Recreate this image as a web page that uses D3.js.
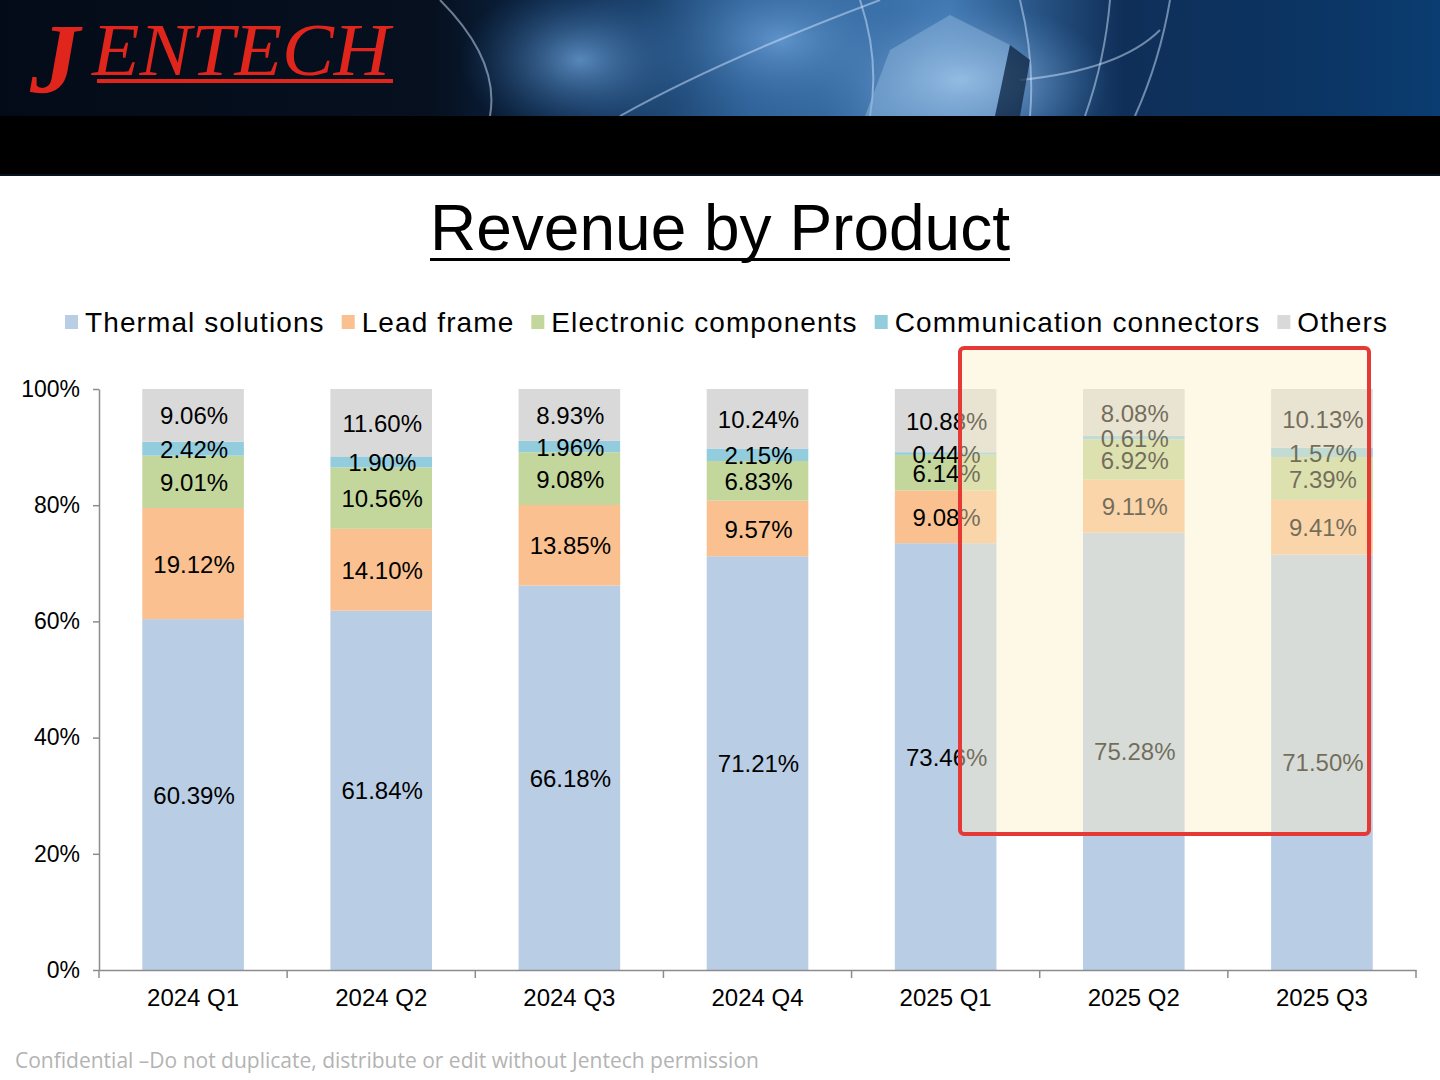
<!DOCTYPE html>
<html>
<head>
<meta charset="utf-8">
<script src="https://cdn.jsdelivr.net/npm/d3@7"></script>
<style>
  html, body { margin: 0; padding: 0; background: #fff; }
  svg { display: block; }
</style>
</head>
<body>
<svg id="chart" width="1440" height="1080"></svg>
<script>
// ---------------- DATA ----------------
const categories = ["2024 Q1", "2024 Q2", "2024 Q3", "2024 Q4", "2025 Q1", "2025 Q2", "2025 Q3"];
const seriesNames = ["Thermal solutions", "Lead frame", "Electronic components", "Communication connectors", "Others"];
const thermalSolutions = [60.39, 61.84, 66.18, 71.21, 73.46, 75.28, 71.50];
const leadFrame = [19.12, 14.10, 13.85, 9.57, 9.08, 9.11, 9.41];
const electronicComponents = [9.01, 10.56, 9.08, 6.83, 6.14, 6.92, 7.39];
const communicationConnectors = [2.42, 1.90, 1.96, 2.15, 0.44, 0.61, 1.57];
const others = [9.06, 11.60, 8.93, 10.24, 10.88, 8.08, 10.13];
const yTickValues = [0, 20, 40, 60, 80, 100];
const seriesColors = ["#B9CDE5", "#FAC090", "#C3D69B", "#93CDDD", "#D9D9D9"];

const seriesValues = [thermalSolutions, leadFrame, electronicComponents, communicationConnectors, others];
const table = categories.map((c, i) => {
  const row = { category: c };
  seriesNames.forEach((s, j) => row[s] = seriesValues[j][i]);
  return row;
});

// ---------------- SETUP ----------------
const svg = d3.select("#chart");
const font = "'Liberation Sans', Arial, Helvetica, sans-serif";

// ---------------- HEADER ----------------
const defs = svg.append("defs");
const hg = defs.append("linearGradient").attr("id", "hdrGrad").attr("x1", 0).attr("x2", 1).attr("y1", 0).attr("y2", 0);
hg.append("stop").attr("offset", "0").attr("stop-color", "#040b18");
hg.append("stop").attr("offset", "0.30").attr("stop-color", "#06101f");
hg.append("stop").attr("offset", "0.40").attr("stop-color", "#0d2a4d");
hg.append("stop").attr("offset", "0.52").attr("stop-color", "#2f6298");
hg.append("stop").attr("offset", "0.66").attr("stop-color", "#4179b2");
hg.append("stop").attr("offset", "0.78").attr("stop-color", "#0f2f58");
hg.append("stop").attr("offset", "0.92").attr("stop-color", "#0b3564");
hg.append("stop").attr("offset", "1").attr("stop-color", "#0b3d72");

const rg = defs.append("radialGradient").attr("id", "glow1").attr("cx", 0.5).attr("cy", 0.5).attr("r", 0.5);
rg.append("stop").attr("offset", "0").attr("stop-color", "#a6cbef").attr("stop-opacity", 0.9);
rg.append("stop").attr("offset", "1").attr("stop-color", "#4a80bb").attr("stop-opacity", 0);

const rg2 = defs.append("radialGradient").attr("id", "glow2").attr("cx", 0.5).attr("cy", 0.5).attr("r", 0.5);
rg2.append("stop").attr("offset", "0").attr("stop-color", "#6a9fd6").attr("stop-opacity", 0.8);
rg2.append("stop").attr("offset", "1").attr("stop-color", "#2a5d95").attr("stop-opacity", 0);

const header = svg.append("g");
header.append("rect").attr("x", 0).attr("y", 0).attr("width", 1440).attr("height", 118).attr("fill", "url(#hdrGrad)");
header.append("clipPath").attr("id", "hdrClip").append("rect").attr("x", 0).attr("y", 0).attr("width", 1440).attr("height", 116);
const deco = header.append("g").attr("clip-path", "url(#hdrClip)");
deco.append("ellipse").attr("cx", 580).attr("cy", 60).attr("rx", 120).attr("ry", 80).attr("fill", "url(#glow2)");
deco.append("ellipse").attr("cx", 960).attr("cy", 80).attr("rx", 150).attr("ry", 80).attr("fill", "url(#glow1)");
deco.append("ellipse").attr("cx", 780).attr("cy", 40).attr("rx", 150).attr("ry", 90).attr("fill", "url(#glow2)");
const arcs = [
  "M 440 0 Q 500 60 490 116",
  "M 860 0 Q 880 60 870 116",
  "M 620 116 Q 720 60 880 0",
  "M 1020 0 Q 1035 60 1030 116",
  "M 1110 0 Q 1105 60 1085 116",
  "M 1170 0 Q 1160 60 1135 116",
  "M 1020 80 Q 1120 70 1160 30"
];
deco.selectAll("path.arc").data(arcs).join("path")
  .attr("d", d => d).attr("fill", "none").attr("stroke", "#cfe4ff").attr("stroke-opacity", 0.5).attr("stroke-width", 2);
deco.append("path").attr("d", "M 865 116 L 890 50 L 950 15 L 1010 45 L 995 116 Z")
  .attr("fill", "#8cb3dc").attr("opacity", 0.5);
deco.append("path").attr("d", "M 995 116 L 1010 45 L 1030 60 L 1020 116 Z")
  .attr("fill", "#0a1f3a").attr("opacity", 0.7);
header.append("rect").attr("x", 0).attr("y", 116).attr("width", 1440).attr("height", 60).attr("fill", "#000");
header.append("rect").attr("x", 0).attr("y", 174).attr("width", 1440).attr("height", 2).attr("fill", "#06121e");

// Logo
const logo = header.append("g");
logo.append("text").attr("x", 30).attr("y", 92)
  .attr("font-family", "'Liberation Serif', 'DejaVu Serif', serif").attr("font-style", "italic").attr("font-weight", "bold")
  .attr("font-size", 100).attr("fill", "#E0261C").text("J");
logo.append("text").attr("x", 92).attr("y", 75)
  .attr("font-family", "'Liberation Serif', 'DejaVu Serif', serif").attr("font-style", "italic")
  .attr("font-size", 74).attr("fill", "#E0261C").attr("textLength", 298).attr("lengthAdjust", "spacingAndGlyphs").text("ENTECH");
logo.append("rect").attr("x", 97).attr("y", 79).attr("width", 296).attr("height", 4).attr("fill", "#E0261C");

// ---------------- TITLE ----------------
svg.append("text").attr("x", 720).attr("y", 250).attr("text-anchor", "middle")
  .attr("font-family", font).attr("font-size", 64).attr("fill", "#000").text("Revenue by Product");
svg.append("rect").attr("x", 430).attr("y", 258).attr("width", 580).attr("height", 3).attr("fill", "#000");

// ---------------- LEGEND ----------------
const legend = svg.append("g").attr("font-family", font).attr("font-size", 28).attr("letter-spacing", 1.1);
let lx = 65;
seriesNames.forEach((name, i) => {
  legend.append("rect").attr("x", lx).attr("y", 315).attr("width", 13).attr("height", 14).attr("fill", seriesColors[i]);
  const t = legend.append("text").attr("x", lx + 20).attr("y", 332).attr("fill", "#000").text(name);
  const w = t.node().getComputedTextLength();
  lx += 20 + w + 17;
});

// ---------------- CHART ----------------
const x = d3.scaleBand().domain(categories).range([99, 1416]).paddingInner(0.46).paddingOuter(0.23);
const y = d3.scaleLinear().domain([0, 100]).range([970, 389]);
const color = d3.scaleOrdinal().domain(seriesNames).range(seriesColors);

const stacked = d3.stack().keys(seriesNames)(table);

const barsG = svg.append("g");
stacked.forEach(layer => {
  barsG.append("g").attr("fill", color(layer.key))
    .selectAll("rect").data(layer).join("rect")
    .attr("x", d => x(d.data.category))
    .attr("y", d => y(d[1]))
    .attr("width", x.bandwidth())
    .attr("height", d => y(d[0]) - y(d[1]));
});

// labels
const labelsG = svg.append("g").attr("font-family", font).attr("font-size", 24).attr("fill", "#000").attr("text-anchor", "middle");
stacked.forEach(layer => {
  labelsG.append("g").selectAll("text").data(layer).join("text")
    .attr("x", d => x(d.data.category) + x.bandwidth() / 2 + 1)
    .attr("y", d => (y(d[0]) + y(d[1])) / 2)
    .attr("dy", "0.38em")
    .text(d => (d[1] - d[0]).toFixed(2) + "%");
});

// Y axis
const yAxis = svg.append("g").attr("transform", "translate(99,0)")
  .call(d3.axisLeft(y).tickValues(yTickValues).tickFormat(d => d + "%").tickSize(6).tickSizeOuter(0).tickPadding(13));
yAxis.select(".domain").attr("stroke", "#8c8c8c").attr("stroke-width", 1.5);
yAxis.selectAll(".tick line").attr("stroke", "#8c8c8c").attr("stroke-width", 1.5);
yAxis.selectAll(".tick text").attr("font-family", font).attr("font-size", 23).attr("fill", "#000");

// X axis
const xAxis = svg.append("g").attr("transform", "translate(0,970)")
  .call(d3.axisBottom(x).tickSize(0).tickSizeOuter(0).tickPadding(19));
xAxis.select(".domain").attr("stroke", "#8c8c8c").attr("stroke-width", 1.5);
xAxis.selectAll(".tick text").attr("font-family", font).attr("font-size", 24).attr("fill", "#000");
const step = x.step();
const bStart = x.range()[0];
xAxis.selectAll("line.btick").data(d3.range(categories.length + 1)).join("line")
  .attr("class", "btick")
  .attr("x1", i => bStart + i * step).attr("x2", i => bStart + i * step)
  .attr("y1", 0).attr("y2", 8)
  .attr("stroke", "#8c8c8c").attr("stroke-width", 1.5);

// ---------------- HIGHLIGHT OVERLAY ----------------
svg.append("rect")
  .attr("x", 960).attr("y", 348).attr("width", 409).attr("height", 486)
  .attr("rx", 4)
  .attr("fill", "rgb(253,240,202)").attr("fill-opacity", 0.45)
  .attr("stroke", "#E53935").attr("stroke-width", 4);

// ---------------- FOOTER ----------------
svg.append("text").attr("x", 15).attr("y", 1068)
  .attr("font-family", "'Open Sans', 'Noto Sans', sans-serif").attr("font-size", 21).attr("fill", "#b3b3b3")
  .text("Confidential –Do not duplicate, distribute or edit without Jentech permission");
</script>
</body>
</html>
